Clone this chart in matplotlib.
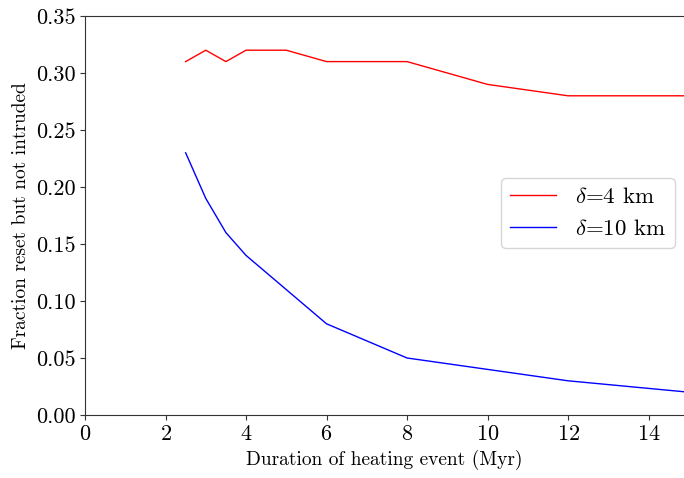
import matplotlib
matplotlib.use("Agg")
import matplotlib.pyplot as plt

plt.rcParams['font.family'] = 'serif'
plt.rcParams['font.serif'] = ['cmr10', 'DejaVu Serif']
plt.rcParams['mathtext.fontset'] = 'cm'
plt.rcParams['axes.formatter.use_mathtext'] = True

x_red = [2.5, 3, 3.5, 4, 5, 6, 7, 8, 10, 12, 15]
y_red = [0.31, 0.32, 0.31, 0.32, 0.32, 0.31, 0.31, 0.31, 0.29, 0.28, 0.28]
x_blue = [2.5, 3, 3.5, 4, 5, 6, 8, 10, 12, 15]
y_blue = [0.23, 0.19, 0.16, 0.14, 0.11, 0.08, 0.05, 0.04, 0.03, 0.02]
xticks = [0, 2, 4, 6, 8, 10, 12, 14]
yticks = [0.00, 0.05, 0.10, 0.15, 0.20, 0.25, 0.30, 0.35]

fig = plt.figure(figsize=(6.84, 4.78), dpi=100)
ax = fig.add_axes([85/684, 1-415/478, (684-85)/684, (415-16)/478])
ax.plot(x_red, y_red, color='red', lw=1.0, label=r'$\delta$=4 km')
ax.plot(x_blue, y_blue, color='blue', lw=1.0, label=r'$\delta$=10 km')
ax.set_xlim(0, 14.88)
ax.set_ylim(0, 0.35)
ax.set_xticks(xticks)
ax.set_yticks(yticks)
ax.set_yticklabels([f"{v:.2f}" for v in yticks])
ax.tick_params(labelsize=16, color='#333333')
for s in ax.spines.values():
    s.set_color('#333333')
ax.spines['right'].set_visible(False)
ax.set_xlabel('Duration of heating event (Myr)', fontsize=14)
ax.set_ylabel('Fraction reset but not intruded', fontsize=14)
ax.legend(fontsize=16.5, loc='upper right', bbox_to_anchor=(0.985, 0.594),
          borderaxespad=0)
fig.savefig('out.png', dpi=100)
